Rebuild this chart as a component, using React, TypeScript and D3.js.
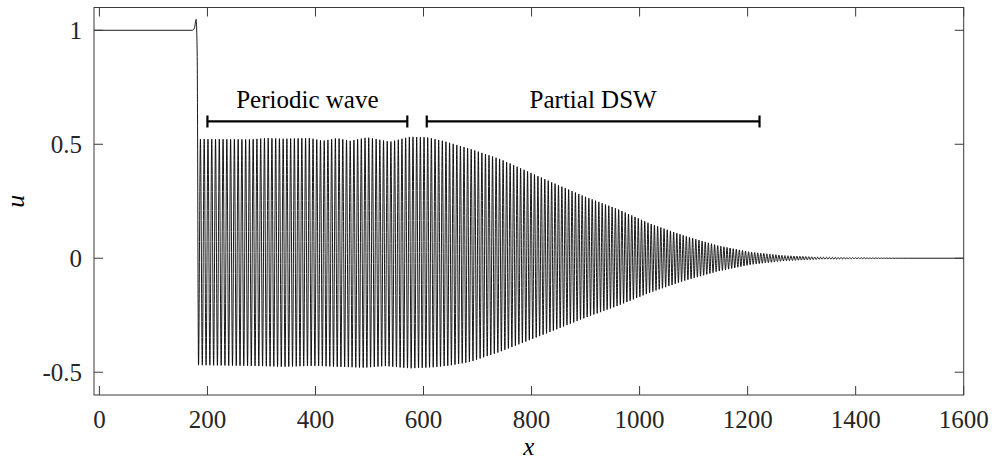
import React from 'react';
import * as d3 from 'd3';

const W = 995;
const H = 465;
const AX = { left: 94, right: 963.7, top: 7.5, bottom: 395 };

const xTicks = [0, 200, 400, 600, 800, 1000, 1200, 1400, 1600];
const yTicks = [-0.5, 0, 0.5, 1];
const yTickLabels = ['-0.5', '0', '0.5', '1'];

// step front (x, u)
const frontX = [-10, 172, 176, 179, 181];
const frontU = [1, 1, 1.01, 1.048, 0.9];

// upper envelope of the oscillations
const upperX = [185, 279, 310, 340, 390, 414, 440, 464, 496, 538, 575, 607, 636, 686, 742, 838, 895, 958, 1020, 1081, 1144, 1205, 1266, 1329, 1390, 1482];
const upperU = [0.523, 0.521, 0.527, 0.524, 0.527, 0.515, 0.527, 0.515, 0.530, 0.511, 0.533, 0.530, 0.515, 0.48, 0.435, 0.333, 0.274, 0.217, 0.151, 0.100, 0.056, 0.027, 0.012, 0.005, 0.003, 0.0];

// lower envelope of the oscillations
const lowerX = [185, 279, 340, 400, 440, 490, 530, 575, 620, 650, 686, 742, 838, 895, 958, 1020, 1081, 1144, 1205, 1266, 1329, 1390, 1482];
const lowerU = [-0.469, -0.472, -0.476, -0.472, -0.476, -0.480, -0.473, -0.483, -0.478, -0.47, -0.455, -0.41, -0.32, -0.265, -0.21, -0.15, -0.10, -0.058, -0.028, -0.012, -0.005, -0.003, 0.0];

// local wavelength
const waveX = [185, 600, 1000, 1480];
const waveLen = [7.0, 6.8, 6.0, 5.2];

const waveStart = 183.5;
const waveEnd = 1490;
const flatX = [1498, 1600];
const flatU = [0, 0];

const brackets = [
  { label: 'Periodic wave', x0: 200, x1: 570, u: 0.6 },
  { label: 'Partial DSW', x0: 606, x1: 1222, u: 0.6 },
];

const FONT = "'Liberation Serif', 'Times New Roman', Tinos, 'DejaVu Serif', 'Noto Serif', Times, serif";

export default function App() {
  const x = d3.scaleLinear().domain([-10, 1600]).range([AX.left, AX.right]);
  const y = d3.scaleLinear().domain([-0.6, 1.1]).range([AX.bottom, AX.top]);

  const up = d3.scaleLinear().domain(upperX).range(upperU).clamp(true);
  const lo = d3.scaleLinear().domain(lowerX).range(lowerU).clamp(true);
  const wl = d3.scaleLinear().domain(waveX).range(waveLen).clamp(true);

  const pts: [number, number][] = frontX.map((v, i) => [v, frontU[i]]);
  let xv = waveStart;
  let k = 0;
  while (xv <= waveEnd) {
    pts.push([xv, k % 2 === 0 ? lo(xv) : up(xv)]);
    xv += wl(xv) / 2;
    k++;
  }
  flatX.forEach((v, i) => pts.push([v, flatU[i]]));

  const line = d3
    .line<[number, number]>()
    .x((d) => x(d[0]))
    .y((d) => y(d[1]))
    .curve(d3.curveMonotoneX);

  const tickLen = 9;
  const axisColor = '#3a3a3a';
  const textStyle = { fontFamily: FONT } as React.CSSProperties;

  return (
    <svg width={W} height={H} style={{ position: 'absolute', left: 0, top: 0, background: '#fff' }}>
      <rect x={0} y={0} width={W} height={H} fill="#fff" />
      <defs>
        <clipPath id="plotclip">
          <rect x={AX.left} y={AX.top} width={AX.right - AX.left} height={AX.bottom - AX.top} />
        </clipPath>
      </defs>
      <path d={line(pts) || ''} fill="none" stroke="#000" strokeWidth={0.9} clipPath="url(#plotclip)" />

      {/* axes box */}
      <rect
        x={AX.left}
        y={AX.top}
        width={AX.right - AX.left}
        height={AX.bottom - AX.top}
        fill="none"
        stroke={axisColor}
        strokeWidth={1}
      />
      {xTicks.map((t) => (
        <g key={'xt' + t}>
          <line x1={x(t)} x2={x(t)} y1={AX.bottom} y2={AX.bottom - tickLen} stroke={axisColor} />
          <line x1={x(t)} x2={x(t)} y1={AX.top} y2={AX.top + tickLen} stroke={axisColor} />
          <text x={x(t)} y={428} textAnchor="middle" style={textStyle} fontSize={25} fill="#262626">
            {t}
          </text>
        </g>
      ))}
      {yTicks.map((t, i) => (
        <g key={'yt' + t}>
          <line x1={AX.left} x2={AX.left + tickLen} y1={y(t)} y2={y(t)} stroke={axisColor} />
          <line x1={AX.right} x2={AX.right - tickLen} y1={y(t)} y2={y(t)} stroke={axisColor} />
          <text x={82} y={y(t)} dy="0.34em" textAnchor="end" style={textStyle} fontSize={25} fill="#262626">
            {yTickLabels[i]}
          </text>
        </g>
      ))}

      {/* axis labels */}
      <text
        x={(AX.left + AX.right) / 2}
        y={455}
        textAnchor="middle"
        style={textStyle}
        fontStyle="italic"
        fontSize={25}
        fill="#000"
      >
        x
      </text>
      <text
        transform={`translate(24, ${(AX.top + AX.bottom) / 2}) rotate(-90)`}
        textAnchor="middle"
        style={textStyle}
        fontStyle="italic"
        fontSize={26}
        fill="#000"
      >
        u
      </text>

      {/* annotations */}
      {brackets.map((b) => {
        const yy = y(b.u);
        return (
          <g key={b.label}>
            <line x1={x(b.x0)} x2={x(b.x1)} y1={yy} y2={yy} stroke="#000" strokeWidth={2.2} />
            <line x1={x(b.x0)} x2={x(b.x0)} y1={yy - 6} y2={yy + 6} stroke="#000" strokeWidth={2.2} />
            <line x1={x(b.x1)} x2={x(b.x1)} y1={yy - 6} y2={yy + 6} stroke="#000" strokeWidth={2.2} />
            <text x={(x(b.x0) + x(b.x1)) / 2} y={yy - 13} textAnchor="middle" style={textStyle} fontSize={25} fill="#000">
              {b.label}
            </text>
          </g>
        );
      })}
    </svg>
  );
}
